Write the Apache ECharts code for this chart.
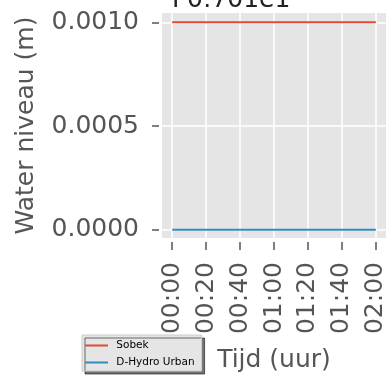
<!DOCTYPE html>
<html>
<head>
<meta charset="utf-8">
<script src="https://cdn.jsdelivr.net/npm/echarts@6/dist/echarts.min.js"></script>
<style>html,body{margin:0;padding:0;background:#fff}#c{width:388px;height:375px}</style>
</head>
<body>
<div id="c"></div>
<script>
// Data (time in minutes)
const times = [0, 10, 20, 30, 40, 50, 60, 70, 80, 90, 100, 110, 120];
const sobek = [0.001, 0.001, 0.001, 0.001, 0.001, 0.001, 0.001, 0.001, 0.001, 0.001, 0.001, 0.001, 0.001];
const dhydro = [0, 0, 0, 0, 0, 0, 0, 0, 0, 0, 0, 0, 0];
const xTickValues = [0, 20, 40, 60, 80, 100, 120];
const xTickLabels = ['00:00', '00:20', '00:40', '01:00', '01:20', '01:40', '02:00'];
const yTickValues = [0, 0.0005, 0.001];
const yTickLabels = ['0.0000', '0.0005', '0.0010'];
const seriesNames = ['Sobek', 'D-Hydro Urban'];

const chart = echarts.init(document.getElementById('c'), null, {renderer: 'canvas'});
const font = 'DejaVu Sans';
const txt = '#555555';
chart.setOption({
  animation: false,
  title: {
    text: 'P0:701e1', left: 167, top: -17,
    textStyle: {fontFamily: font, fontSize: 25, fontWeight: 'normal', color: '#222'}
  },
  grid: {
    left: 162, right: 2, top: 13, bottom: 137,
    outerBoundsMode: 'none', containLabel: false,
    show: true, backgroundColor: '#E5E5E5', borderWidth: 0
  },
  legend: {
    orient: 'vertical', left: 82, top: 335,
    padding: [5, 7, 3, 3], itemGap: 6, itemWidth: 23, itemHeight: 2,
    backgroundColor: '#E5E5E5', borderColor: '#cccccc', borderWidth: 1,
    shadowColor: 'rgba(0,0,0,0.55)', shadowOffsetX: 3, shadowOffsetY: 3, shadowBlur: 0,
    textStyle: {fontFamily: font, fontSize: 10.5, color: '#000'},
    formatter: n => ' ' + n,
    data: seriesNames.map(n => ({name: n, icon: 'rect'}))
  },
  xAxis: {
    type: 'value', min: -6, max: 126, offset: 4,
    name: 'Tijd (uur)', nameLocation: 'middle', nameGap: 106,
    nameTextStyle: {fontFamily: font, fontSize: 25, color: txt},
    axisLine: {show: false, onZero: false},
    axisTick: {show: true, length: 8, customValues: xTickValues, lineStyle: {color: txt, width: 1.5}},
    axisLabel: {
      customValues: xTickValues, rotate: 90, margin: 20,
      fontFamily: font, fontSize: 25, color: txt,
      formatter: v => xTickLabels[xTickValues.indexOf(v)]
    },
    splitLine: {show: true, customValues: xTickValues, lineStyle: {color: '#ffffff', width: 1.5}}
  },
  yAxis: {
    type: 'value', min: -0.00004, max: 0.001045, offset: 3,
    name: 'Water niveau (m)', nameLocation: 'middle', nameGap: 120, nameRotate: 90,
    nameTextStyle: {fontFamily: font, fontSize: 25, color: txt},
    axisLine: {show: false, onZero: false},
    axisTick: {show: true, length: 7, customValues: yTickValues, lineStyle: {color: txt, width: 1.5}},
    axisLabel: {
      customValues: yTickValues, margin: 20,
      fontFamily: font, fontSize: 25, color: txt,
      formatter: v => yTickLabels[yTickValues.indexOf(v)]
    },
    splitLine: {show: true, customValues: yTickValues, lineStyle: {color: '#ffffff', width: 1.5}}
  },
  series: [
    {name: seriesNames[0], type: 'line', data: times.map((t, i) => [t, sobek[i]]),
     showSymbol: false, lineStyle: {color: '#E24A33', width: 2}, itemStyle: {color: '#E24A33'}},
    {name: seriesNames[1], type: 'line', data: times.map((t, i) => [t, dhydro[i]]),
     showSymbol: false, lineStyle: {color: '#348ABD', width: 2}, itemStyle: {color: '#348ABD'}}
  ]
});
</script>
</body>
</html>
